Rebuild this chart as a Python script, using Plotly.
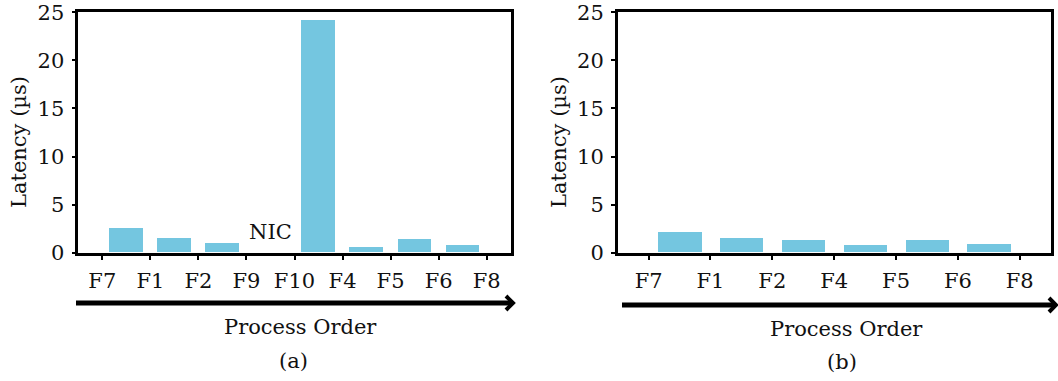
import numpy as np
import plotly.graph_objects as go

# ---------------- data ----------------
order_a = ["F7", "F1", "F2", "F9", "F10", "F4", "F5", "F6", "F8"]
latency_a = [2.5, 1.45, 0.95, 0.0, 24.2, 0.6, 1.35, 0.75]   # latency between consecutive functions
nic_index_a = 3  # the hop F9 -> F10 is handled by the NIC (no bar)

order_b = ["F7", "F1", "F2", "F4", "F5", "F6", "F8"]
latency_b = [2.15, 1.55, 1.25, 0.75, 1.25, 0.85]

y_ticks = [0, 5, 10, 15, 20, 25]

# ---------------- style ----------------
W, H = 1058, 381
BAR_COLOR = "#74C6E0"
FONT = "DejaVu Serif"
FS = 21


def px_x(p):
    return p / W


def px_y(p):
    return 1 - p / H


fig = go.Figure()

fig.add_trace(go.Bar(
    x=np.arange(len(latency_a)) + 0.5, y=latency_a, width=0.7,
    marker=dict(color=BAR_COLOR, line=dict(width=0)),
    xaxis="x", yaxis="y", showlegend=False, hoverinfo="skip"))
fig.add_trace(go.Bar(
    x=np.arange(len(latency_b)) + 0.5, y=latency_b, width=0.7,
    marker=dict(color=BAR_COLOR, line=dict(width=0)),
    xaxis="x2", yaxis="y2", showlegend=False, hoverinfo="skip"))

ydom = [px_y(252.7), px_y(12.3)]
common_x = dict(showline=True, mirror=True, linecolor="black", linewidth=2.5,
                ticks="outside", ticklen=5, tickwidth=2, tickcolor="black",
                showgrid=False, zeroline=False, automargin=False,
                ticklabelstandoff=2,
                tickfont=dict(family=FONT, size=FS, color="#111"))
common_y = dict(showline=True, mirror=True, linecolor="black", linewidth=2.5,
                ticks="outside", ticklen=4, tickwidth=2, tickcolor="black",
                showgrid=False, zeroline=False, range=[0, 25], automargin=False,
                ticklabelstandoff=3,
                tickvals=y_ticks, ticktext=[str(v) for v in y_ticks],
                tickfont=dict(family=FONT, size=FS, color="#111"))

fig.update_layout(
    template="none",
    width=W, height=H,
    margin=dict(l=0, r=0, t=0, b=0, pad=0),
    paper_bgcolor="white", plot_bgcolor="white",
    bargap=0,
    xaxis=dict(domain=[px_x(78.3), px_x(510.7)], range=[-0.5, len(order_a) - 0.5],
               tickvals=list(range(len(order_a))), ticktext=order_a, anchor="y", **common_x),
    yaxis=dict(domain=ydom, anchor="x", **common_y),
    xaxis2=dict(domain=[px_x(617.7), px_x(1050.7)], range=[-0.5, len(order_b) - 0.5],
                tickvals=list(range(len(order_b))), ticktext=order_b, anchor="y2", **common_x),
    yaxis2=dict(domain=ydom, anchor="x2", **common_y),
)

txt = dict(family=FONT, size=FS, color="#111")
ann = [
    dict(text="Latency (µs)", x=px_x(19), y=px_y(142), xref="paper", yref="paper",
         textangle=-90, showarrow=False, font=txt, xanchor="center", yanchor="middle"),
    dict(text="Latency (µs)", x=px_x(559), y=px_y(142), xref="paper", yref="paper",
         textangle=-90, showarrow=False, font=txt, xanchor="center", yanchor="middle"),
    dict(text="Process Order", x=px_x(300), y=px_y(327), xref="paper", yref="paper",
         showarrow=False, font=txt, xanchor="center", yanchor="middle"),
    dict(text="Process Order", x=px_x(846), y=px_y(329), xref="paper", yref="paper",
         showarrow=False, font=txt, xanchor="center", yanchor="middle"),
    dict(text="(a)", x=px_x(293.5), y=px_y(361), xref="paper", yref="paper",
         showarrow=False, font=txt, xanchor="center", yanchor="middle"),
    dict(text="(b)", x=px_x(841.5), y=px_y(362), xref="paper", yref="paper",
         showarrow=False, font=txt, xanchor="center", yanchor="middle"),
    dict(text="NIC", x=nic_index_a + 0.5, y=2.15, xref="x", yref="y",
         showarrow=False, font=txt, xanchor="center", yanchor="middle"),
]
fig.update_layout(annotations=ann)


def arrow(x0, x1, y):
    return [
        dict(type="line", xref="paper", yref="paper",
             x0=px_x(x0), x1=px_x(x1 - 2), y0=px_y(y), y1=px_y(y),
             line=dict(color="black", width=5)),
        dict(type="path", xref="paper", yref="paper",
             path=f"M {px_x(x1-7)},{px_y(y-7)} L {px_x(x1)},{px_y(y)} L {px_x(x1-7)},{px_y(y+7)}",
             line=dict(color="black", width=4)),
    ]


fig.update_layout(shapes=arrow(76, 513, 303) + arrow(622, 1056, 305))

fig.write_html("out.html")
